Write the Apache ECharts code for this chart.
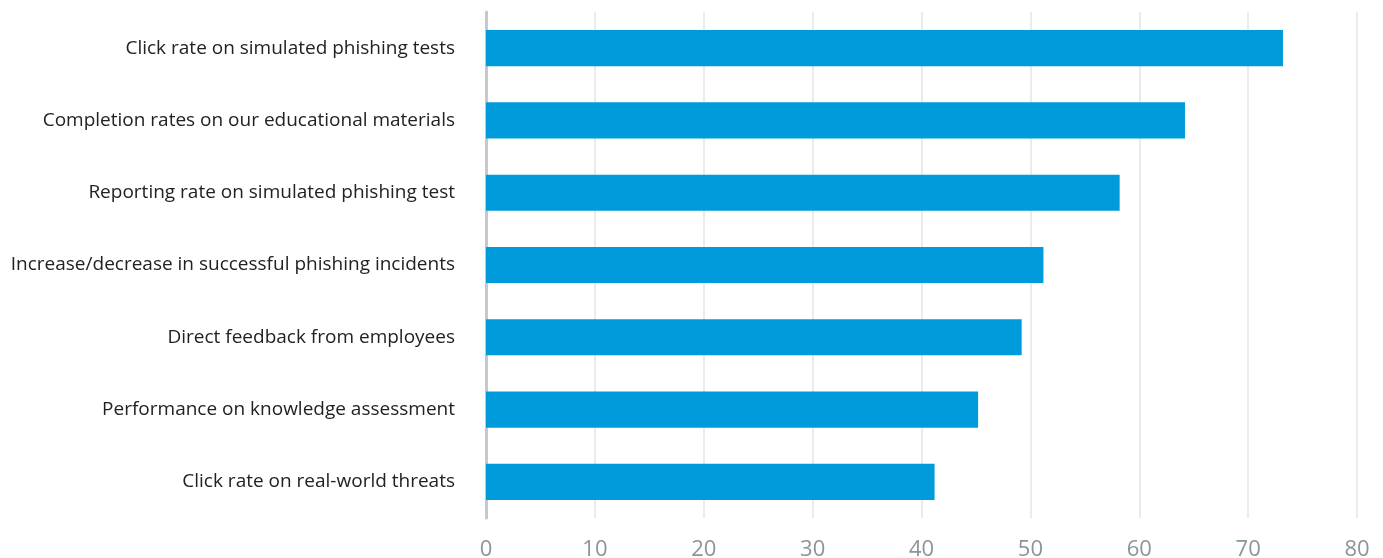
<!DOCTYPE html>
<html>
<head>
<meta charset="utf-8">
<script src="https://cdn.jsdelivr.net/npm/echarts@6/dist/echarts.min.js"></script>
<style>
  html, body { margin: 0; padding: 0; background: #ffffff; }
  #chart { width: 1383px; height: 558px; }
</style>
</head>
<body>
<div id="chart"></div>
<script>
// Measures, listed top to bottom
const categories = [
  'Click rate on simulated phishing tests',
  'Completion rates on our educational materials',
  'Reporting rate on simulated phishing test',
  'Increase/decrease in successful phishing incidents',
  'Direct feedback from employees',
  'Performance on knowledge assessment',
  'Click rate on real-world threats'
];
const values = [73.2, 64.2, 58.2, 51.2, 49.2, 45.2, 41.2];
const xTicks = [0, 10, 20, 30, 40, 50, 60, 70, 80];

const chart = echarts.init(document.getElementById('chart'));
chart.setOption({
  animation: false,
  grid: { left: 486, right: 26, top: 12, bottom: 40, outerBoundsMode: 'none' },
  xAxis: {
    type: 'value',
    min: xTicks[0],
    max: xTicks[xTicks.length - 1],
    interval: 10,
    axisLine: { show: false },
    axisTick: { show: false },
    splitLine: { show: true, lineStyle: { color: '#ebebeb', width: 2 } },
    axisLabel: {
      color: '#8a9696',
      fontSize: 22,
      fontFamily: '"Open Sans", sans-serif',
      margin: 21
    }
  },
  yAxis: {
    type: 'category',
    inverse: true,
    data: categories,
    axisLine: { show: true, lineStyle: { color: '#c5c9cd', width: 3 } },
    axisTick: { show: false },
    axisLabel: {
      color: '#222222',
      fontSize: 19,
      fontFamily: '"Open Sans", sans-serif',
      margin: 31,
      padding: [6, 0, 0, 0]
    }
  },
  series: [{
    type: 'bar',
    data: values,
    barWidth: '50%',
    itemStyle: { color: '#009bdb' }
  }]
});
</script>
</body>
</html>
